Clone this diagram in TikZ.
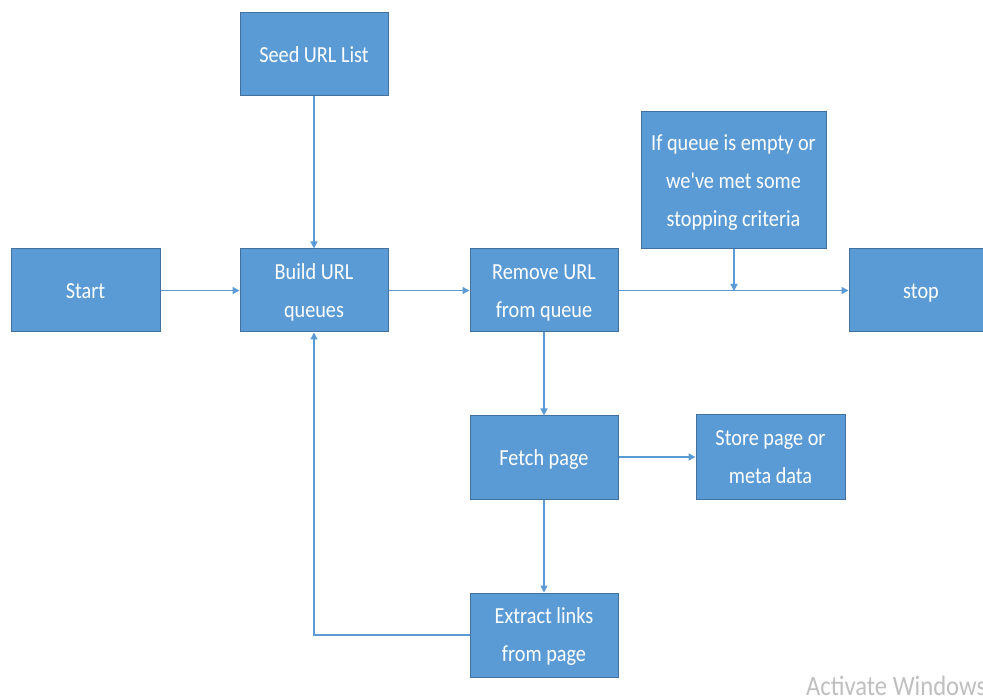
\documentclass[tikz,border=0pt]{standalone}
\usepackage{fontspec}
\setmainfont{Carlito}[FakeStretch=0.88,Ligatures=TeXOff]
\usetikzlibrary{arrows.meta}
\definecolor{boxfill}{HTML}{5B9BD5}
\definecolor{boxline}{HTML}{41719C}
\definecolor{arrowc}{HTML}{5B9BD5}
\begin{document}
\begin{tikzpicture}[x=1pt,y=-1pt,
  blk/.style={draw=boxline,line width=1pt,fill=boxfill,text=white,
    font=\fontsize{23}{38}\selectfont,align=center,inner sep=0pt},
  conn/.style={draw=arrowc,line width=1.4pt,-{Triangle[length=7pt,width=7pt]}}]
\useasboundingbox (0,0) rectangle (983,700);
\path[fill=white] (0,0) rectangle (983,700);
\newcommand{\blkbox}[6]{%
  \node[blk,minimum width=#4-#2,minimum height=#5-#3] (#1) at ({(#2+#4)/2},{(#3+#5)/2}) {\raisebox{-2pt}{\begin{tabular}{@{}c@{}}#6\end{tabular}}};}
\renewcommand{\arraystretch}{1}
\blkbox{seed}{240}{13}{388}{96}{Seed URL List}
\blkbox{start}{11}{249}{160}{332}{Start}
\blkbox{build}{240}{249}{388}{332}{Build URL\\queues}
\blkbox{remove}{470}{249}{618}{332}{Remove URL\\from queue}
\blkbox{cond}{641}{112}{826}{249}{If queue is empty or\\we've met some\\stopping criteria}
\blkbox{stop}{849}{249}{993}{332}{stop}
\blkbox{fetch}{470}{416}{618}{499}{Fetch page}
\blkbox{store}{696}{415}{845}{499}{Store page or\\meta data}
\blkbox{extract}{470}{593}{618}{677}{Extract links\\from page}
\coordinate (join) at (734,291);
\draw[conn] (seed) -- (build);
\draw[conn] (start) -- (build);
\draw[conn] (build) -- (remove);
\draw[conn] (remove.east) -- (remove.east -| stop.west);
\draw[conn] (cond.south -| join) -- (join);
\draw[conn] (remove) -- (fetch);
\draw[conn] (fetch.east |- store) -- (store.west);
\draw[conn] (fetch) -- (extract);
\draw[conn] (extract.west) -| (build.south);
\node[anchor=north west,text=black!25,font=\fontsize{28}{30}\selectfont,inner sep=0pt] (wm) at (806,676) {Activate Windows};
\end{tikzpicture}
\end{document}
